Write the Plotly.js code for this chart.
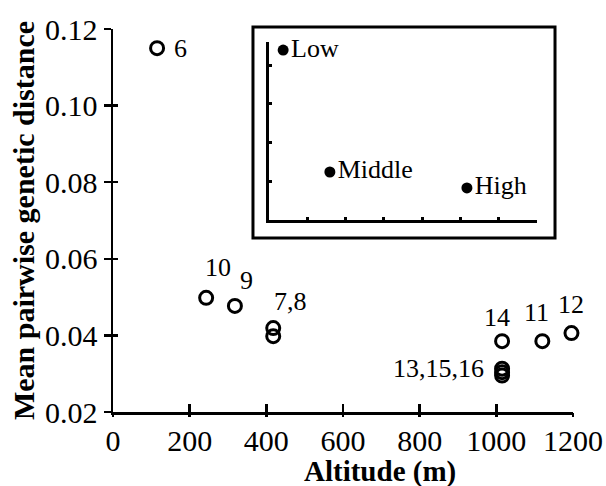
<!DOCTYPE html>
<html><head><meta charset="utf-8">
<script src="https://cdn.plot.ly/plotly-3.0.1.min.js"></script>
<style>html,body{margin:0;padding:0;background:#fff}</style>
</head><body><div id="chart" style="width:606px;height:486px"></div>
<script>
// Main scatter: site numbers, altitude (m), mean pairwise genetic distance
const sites    = ['6', '10', '9', '7', '8', '14', '11', '12', '13', '15', '16'];
const altitude = [115, 243, 318, 418, 418, 1015, 1120, 1196, 1015, 1015, 1015];
const distance = [0.115, 0.0498, 0.0477, 0.0419, 0.0398, 0.0385, 0.0385, 0.0406, 0.0313, 0.0304, 0.0295];

// Point labels (text) and the index of the point each belongs to
const labelText  = ['6', '10', '9', '7,8', '14', '11', '12', '13,15,16'];
const labelPoint = [0, 1, 2, 3, 5, 6, 7, 8];

// Inset (schematic): altitude class, relative position
const insetNames = ['Low', 'Middle', 'High'];
const insetX     = [0.37, 1.59, 5.17];
const insetY     = [4.39, 1.24, 0.83];

const xTicks = [0, 200, 400, 600, 800, 1000, 1200];
const yTicks = [0.02, 0.04, 0.06, 0.08, 0.10, 0.12];

const serif = "'Liberation Serif'";

// label placement (pixel offsets from the point they annotate)
const labelStyle = [
  {xs: 23, ys: 0, xa: 'center'},
  {xs: 12, ys: 30, xa: 'center'},
  {xs: 12, ys: 25, xa: 'center'},
  {xs: 17, ys: 27, xa: 'center'},
  {xs: -5, ys: 24, xa: 'center'},
  {xs: -6, ys: 29, xa: 'center'},
  {xs: 0, ys: 29, xa: 'center'},
  {xs: -16, ys: 0, xa: 'right'}
];

const annotations = labelText.map((t, i) => ({
  x: altitude[labelPoint[i]], y: distance[labelPoint[i]], xref: 'x', yref: 'y',
  text: t, showarrow: false, xanchor: labelStyle[i].xa, yanchor: 'middle',
  xshift: labelStyle[i].xs, yshift: labelStyle[i].ys,
  font: {family: serif, size: 26, color: '#000'}
}));

// x-axis title (placed as a paper annotation so it sits where the original has it)
annotations.push({
  xref: 'paper', yref: 'paper', x: 0.5804, y: -0.156, xanchor: 'center', yanchor: 'middle',
  text: '<b>Altitude (m)</b>', showarrow: false,
  font: {family: serif, size: 29, color: '#000'}
});

const traces = [
  {
    type: 'scatter', mode: 'markers', x: altitude, y: distance, text: sites,
    xaxis: 'x', yaxis: 'y', cliponaxis: false,
    marker: {symbol: 'circle-open', size: 13, color: '#000', line: {width: 3, color: '#000'}},
    hoverinfo: 'text+x+y', showlegend: false
  },
  {
    type: 'scatter', mode: 'markers+text', x: insetX, y: insetY, text: insetNames,
    xaxis: 'x2', yaxis: 'y2', cliponaxis: false,
    textposition: 'middle right',
    textfont: {family: serif, size: 26, color: '#000'},
    marker: {symbol: 'circle', size: 11, color: '#000'},
    showlegend: false
  },
  // empty trace that carries the overlay axes used for the other half of the crossing ticks
  {type: 'scatter', mode: 'markers', x: [], y: [], xaxis: 'x3', yaxis: 'y3', showlegend: false, hoverinfo: 'skip'}
];

const layout = {
  width: 606, height: 486,
  margin: {l: 113, r: 33, t: 29, b: 74},
  paper_bgcolor: '#fff', plot_bgcolor: '#fff',
  showlegend: false,
  xaxis: {
    range: [0, 1200], tickvals: xTicks, ticktext: xTicks.map(String),
    ticks: 'inside', ticklen: 8, tickwidth: 2.5, tickcolor: '#000',
    showline: true, linewidth: 2.5, linecolor: '#000',
    showgrid: false, zeroline: false,
    tickfont: {family: serif, size: 30, color: '#000'},
    title: {text: ''}
  },
  yaxis: {
    range: [0.02, 0.12], tickvals: yTicks, tickformat: '.2f',
    ticks: 'outside', ticklen: 7, tickwidth: 2.5, tickcolor: '#000',
    showline: true, linewidth: 2.5, linecolor: '#000',
    showgrid: false, zeroline: false,
    tickfont: {family: serif, size: 30, color: '#000'},
    title: {text: 'Mean pairwise genetic distance', font: {family: serif, size: 30, color: '#000', weight: 'bold'}, standoff: 2}
  },
  xaxis3: {
    overlaying: 'x', anchor: 'y', side: 'bottom', range: [0, 1200], tickvals: xTicks,
    ticks: 'outside', ticklen: 4, tickwidth: 2.5, tickcolor: '#000',
    showticklabels: false, showline: false, showgrid: false, zeroline: false
  },
  yaxis3: {
    overlaying: 'y', anchor: 'x', side: 'left', range: [0.02, 0.12], tickvals: yTicks,
    ticks: 'inside', ticklen: 5, tickwidth: 2.5, tickcolor: '#000',
    showticklabels: false, showline: false, showgrid: false, zeroline: false
  },
  xaxis2: {
    domain: [0.3391, 0.9217], anchor: 'y2', range: [0, 7],
    tickvals: [1, 2, 3, 4, 5, 6, 7], ticks: 'inside', ticklen: 3, tickwidth: 3, tickcolor: '#000',
    showticklabels: false, showline: true, linewidth: 2.5, linecolor: '#000',
    showgrid: false, zeroline: false
  },
  yaxis2: {
    domain: [0.5013, 0.9661], anchor: 'x2', range: [0, 4.6],
    tickvals: [1, 2, 3, 4], ticks: 'inside', ticklen: 3, tickwidth: 3, tickcolor: '#000',
    showticklabels: false, showline: true, linewidth: 3, linecolor: '#000',
    showgrid: false, zeroline: false
  },
  shapes: [{
    type: 'rect', xref: 'paper', yref: 'paper',
    x0: 0.3043, x1: 0.9609, y0: 0.4543, y1: 1.0052,
    line: {color: '#000', width: 3}, fillcolor: 'rgba(0,0,0,0)'
  }],
  annotations: annotations
};

Plotly.newPlot('chart', traces, layout, {displayModeBar: false, staticPlot: true});
</script></body></html>
